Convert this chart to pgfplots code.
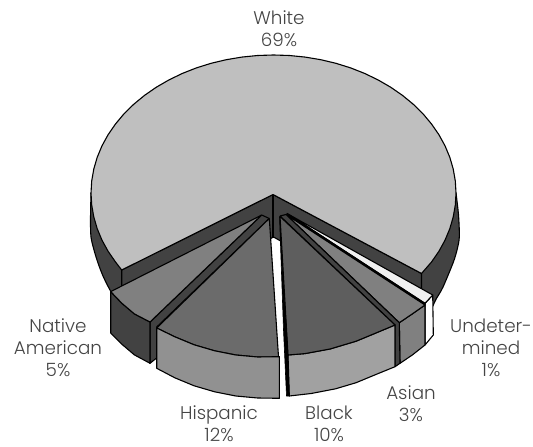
\documentclass[border=0pt]{standalone}
\usepackage{fontspec}
\setmainfont{Poppins Light}
\usepackage{pgfplots}
\pgfplotsset{compat=1.18}
\definecolor{ink}{gray}{0.27}
\definecolor{wallc}{gray}{0.26}
\definecolor{whitetop}{gray}{0.75}
\definecolor{midtop}{gray}{0.5}
\definecolor{histop}{gray}{0.42}
\definecolor{hisfront}{gray}{0.57}
\definecolor{blktop}{gray}{0.37}
\definecolor{blkfront}{gray}{0.63}
\definecolor{undtop}{gray}{0.94}
\pgfplotsset{
  face/.style={fill=#1, draw=black, line width=1.1pt, line join=round, mark=none},
  heavy/.style={draw=black, line width=1.9pt, line cap=round, mark=none},
}
\newcommand{\lab}[3]{\node[align=center, text=ink, font=\fontsize{18.4}{22}\selectfont, inner sep=0pt] at (axis cs:#1,#2) {#3};}
\begin{document}
\begin{tikzpicture}[x=1bp,y=1bp]
\path[use as bounding box] (0,0) rectangle (533,447);
\begin{axis}[
  at={(0,0)}, anchor=south west,
  scale only axis, width=533bp, height=447bp,
  xmin=0, xmax=533, ymin=0, ymax=447, y dir=reverse,
  hide axis, clip=false,
]
% outer rim of the large slice, left and right
\addplot[face=wallc, smooth] coordinates {(91,193) (90.5,220) (91,237) (94,250) (98,263) (103,276) (110,290) (122,310) (140,300) (140,260) (100,190)};
\addplot[face=wallc, smooth] coordinates {(456,193) (458.5,215) (459.3,237) (457,250) (453,263) (443,287) (436.7,298) (428,312) (415,300) (415,260) (445,190)};
% cut walls of the large slice
\addplot[face=wallc] coordinates {(273,194.5) (421.5,273.5) (421.5,320) (273.5,237) (121.7,320) (121.7,270) (273,194.5)};
\addplot[draw=black, line width=1.1pt, mark=none] coordinates {(273,194.5) (273,237)};
% White 69%
\addplot[face=whitetop] coordinates {
(273,194.5) (421.5,273.5) (431.5,262) (438.9,251.3) (445,240.2) (449.8,228.7) (453.2,217) (455.3,205)
(456,193) (455.3,181) (453.2,169) (449.8,157.3) (445,145.8) (438.9,134.7) (431.5,124) (423,113.8)
(413.3,104.3) (402.5,95.4) (390.8,87.3) (378.2,80) (364.8,73.5) (350.6,67.9) (335.9,63.3) (320.7,59.7)
(305.2,57.1) (289.4,55.5) (273.5,55) (257.6,55.5) (241.8,57.1) (226.3,59.7) (211.1,63.3) (196.4,67.9)
(182.2,73.5) (168.8,80) (156.2,87.3) (144.5,95.4) (133.7,104.3) (124,113.8) (115.5,124) (108.1,134.7)
(102,145.8) (97.2,157.3) (93.8,169) (91.7,181) (91,193) (91.7,205) (93.8,217) (97.2,228.7) (102,240.2)
(108.1,251.3) (115.5,262) (121.7,270) (273,194.5)};
% Undetermined 1%
\addplot[face=white] coordinates {(425,303.3) (432.7,295) (433.3,335) (425,345) (425,303.3)};
\addplot[face=undtop] coordinates {(286.7,213.3) (432.7,295) (425,303.3) (286.7,213.3)};
% Asian 3%
\addplot[face=midtop] coordinates {(399.3,322.7) (412.3,313.9) (425,305) (425,345) (412.3,355) (400,363.3) (399.3,322.7)};
\addplot[face=midtop] coordinates {(286,214.5) (425,305) (412.3,313.9) (399.3,322.7) (286,214.5)};
\addplot[heavy] coordinates {(288,214.5) (425,304)};
% wall between the Black and Asian slices
\addplot[face=wallc] coordinates {(280,216) (286,214.5) (399.3,322.7) (400,363.3) (395,366.7) (395,325) (280,216)};
% Black 10%
\addplot[face=blkfront] coordinates {(288,355) (305,353.6) (330,349) (356.1,341.2) (375.4,333.2) (395,325) (395,366.7) (375.4,374.7) (356.1,382.7) (335.6,388.8) (311.2,393.5) (289.3,396) (288,355)};
\addplot[face=blktop] coordinates {(280,216.5) (395,325) (375.4,333.2) (356.1,341.2) (330,349) (305,353.6) (288,355) (280,216.5)};
% dark left wall of the Black slice, seen edge-on
\addplot[face=black, line width=0.6pt] coordinates {(279.5,216.5) (283.5,330) (286.5,396) (289.3,396) (288,355) (279.5,216.5)};
% wall between the Native American and Hispanic slices
\addplot[face=wallc] coordinates {(261.7,215) (269.3,218.5) (156.7,327) (156.7,358) (150,363.3) (150,322) (261.7,215)};
% Hispanic 12%
\addplot[face=histop] coordinates {(269.3,218.5) (156.7,328) (174.8,336.8) (194.1,344.8) (214.6,350.8) (235.8,355) (257.6,357) (278.5,356.7) (269.3,218.5)};
\addplot[face=hisfront] coordinates {(156.7,328) (174.8,336.8) (194.1,344.8) (214.6,350.8) (235.8,355) (257.6,357) (279.3,356.7) (279.3,398.3) (257.6,398) (235.8,396) (214.6,391.8) (194.1,385.8) (174.8,377.8) (156.7,368.3) (156.7,328)};
% Native American 5%
\addplot[face=wallc] coordinates {(110.7,291.6) (121.8,303.2) (134.4,313.9) (150,322) (150,363.3) (134.4,354.9) (121.8,344.2) (110.7,333) (110.7,291.6)};
\addplot[face=midtop] coordinates {(261.7,215) (150,322) (134.4,313.9) (121.8,303.2) (110.7,291.6) (261.7,215)};
\lab{279}{29}{White\\69\%}
\lab{58}{348}{Native\\American\\5\%}
\lab{219}{424}{Hispanic\\12\%}
\lab{329}{424}{Black\\10\%}
\lab{411}{404}{Asian\\3\%}
\lab{491}{348}{Undeter-\\mined\\1\%}
\end{axis}
\end{tikzpicture}
\end{document}
